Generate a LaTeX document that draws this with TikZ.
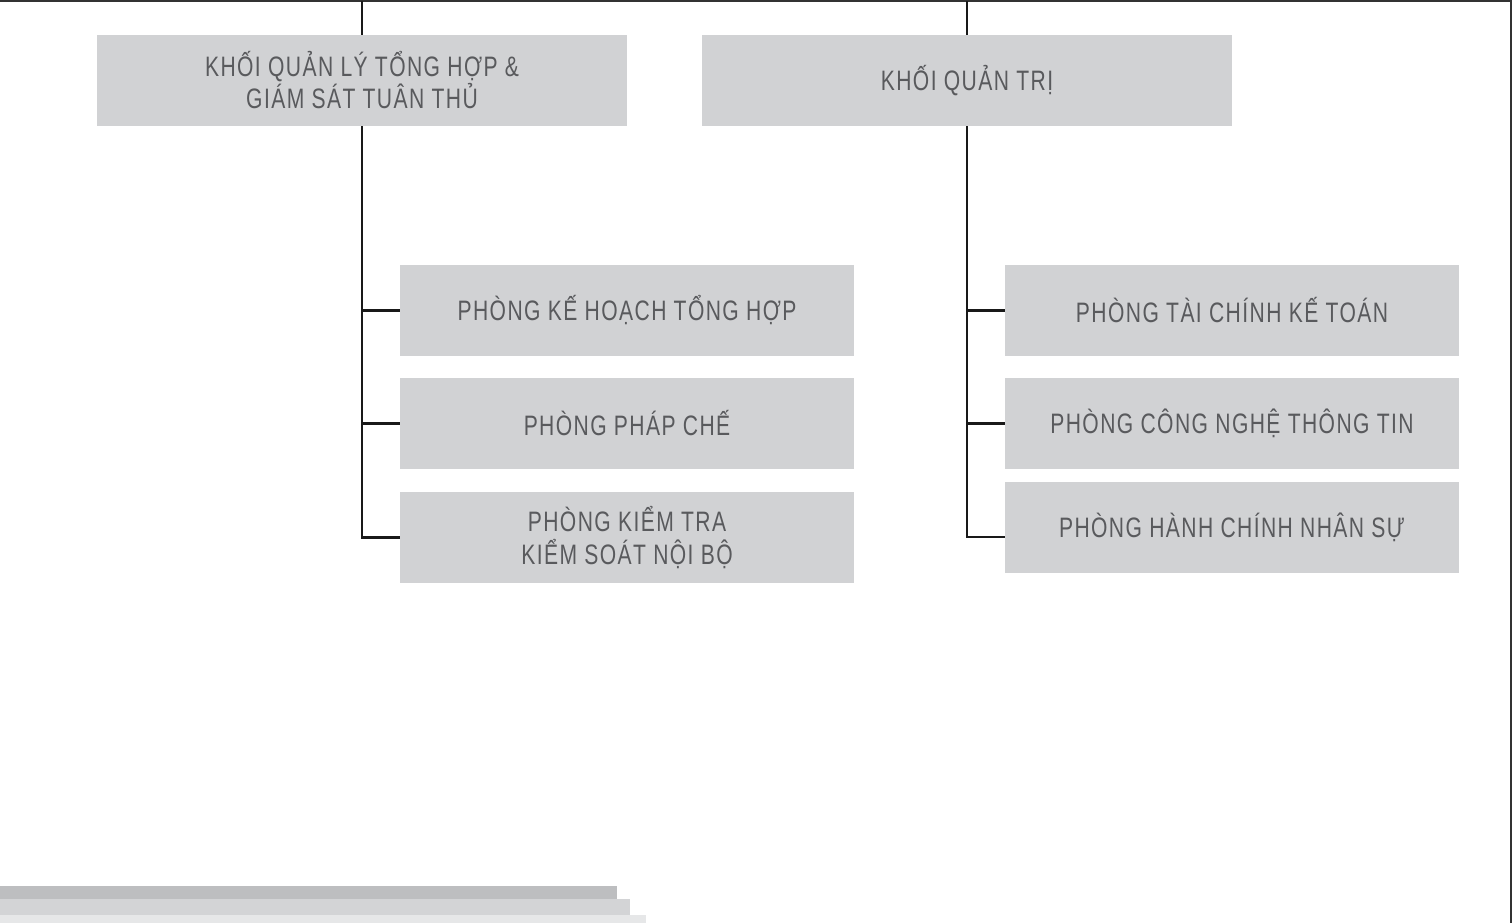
\documentclass[tikz,border=0pt]{standalone}
\usepackage{fontspec}
\usepackage{xcolor}
\usepackage{tikz}
\usetikzlibrary{positioning}

\newfontfamily\deptfont[FakeStretch=0.75,LetterSpace=5]{Liberation Sans}
\definecolor{boxgray}{HTML}{D1D2D4}
\definecolor{textgray}{HTML}{595A5D}
\definecolor{barA}{HTML}{BDBEC0}
\definecolor{barB}{HTML}{D3D4D6}
\definecolor{barC}{HTML}{E6E7E8}

\begin{document}
\begin{tikzpicture}[
    x=0.025cm, y=-0.025cm,
    unit/.style={fill=boxgray, text=textgray, align=center, inner sep=0pt,
                 font=\deptfont\fontsize{20}{22.8}\selectfont, minimum height=2.275cm},
    block/.style={unit, minimum width=13.25cm},
    dept/.style={unit, minimum width=11.35cm},
    link/.style={black!90, line width=1.8pt},
    border/.style={black!80, line width=1.4pt},
]
\useasboundingbox (0,0) rectangle (1512,923);

% --- Frame ---
\coordinate (tl) at (0,1);
\coordinate (tr) at (1511,1);
\coordinate (br) at (1511,923);
\draw[border] (tl) -- (tr) -- (br);

% --- Blocks ---
\node[block] (kqlth) at (362,80.5) {KHỐI QUẢN LÝ TỔNG HỢP \&\\GIÁM SÁT TUÂN THỦ};
\node[block] (kqt) at (967,80.5) {KHỐI QUẢN TRỊ};

% --- Departments, left ---
\node[dept] (khth) at (627,310.5) {PHÒNG KẾ HOẠCH TỔNG HỢP};
\node[dept] (pc) at (627,423.5) {PHÒNG PHÁP CHẾ};
\node[dept] (ktks) at (627,537.5) {PHÒNG KIỂM TRA\\KIỂM SOÁT NỘI BỘ};

% --- Departments, right ---
\node[dept] (tckt) at (1232,310.5) {PHÒNG TÀI CHÍNH KẾ TOÁN};
\node[dept] (cntt) at (1232,423.5) {PHÒNG CÔNG NGHỆ THÔNG TIN};
\node[dept] (hcns) at (1232,527.5) {PHÒNG HÀNH CHÍNH NHÂN SỰ};
\coordinate (hcnsTie) at (1005,537);

% --- Connections ---
\draw[link] (kqlth.north |- tl) -- (kqlth.north);
\draw[link] (kqt.north |- tl) -- (kqt.north);
\draw[link] (kqlth.south) -- (ktks.west -| kqlth.south) -- (ktks.west);
\draw[link] (kqt.south) -- (hcnsTie -| kqt.south) -- (hcnsTie);
\foreach \n in {khth,pc} {
    \draw[link] (\n.west -| kqlth.south) -- (\n.west);
}
\foreach \n in {tckt,cntt} {
    \draw[link] (\n.west -| kqt.south) -- (\n.west);
}

% --- Bottom bars ---
\fill[barC] (0,915) rectangle (646,923);
\fill[barB] (0,899) rectangle (630,915);
\fill[barA] (0,886) rectangle (617,899);

\end{tikzpicture}
\end{document}
